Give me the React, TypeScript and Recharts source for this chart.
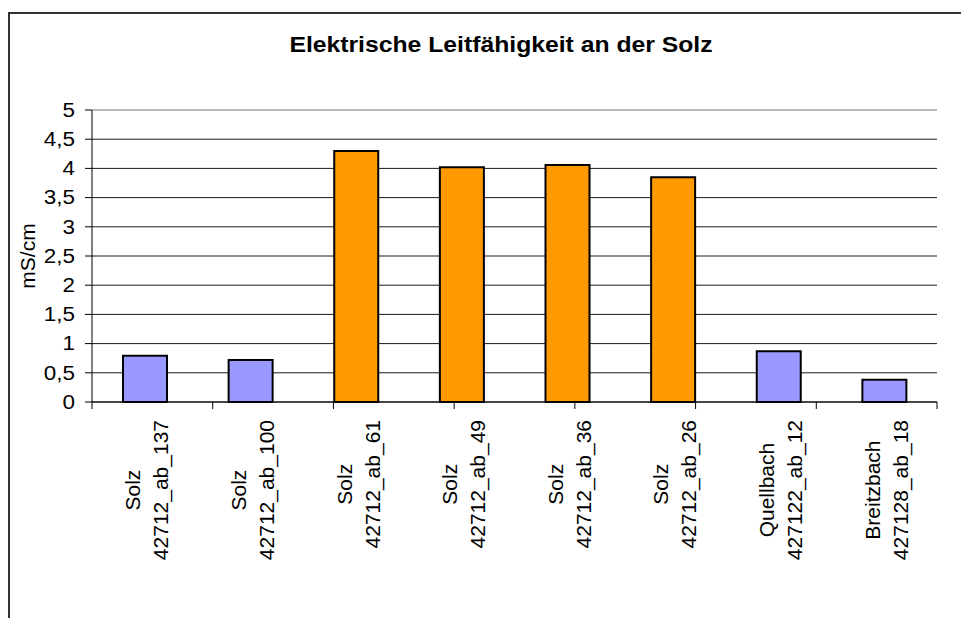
import { BarChart, Bar, Cell, XAxis, YAxis, CartesianGrid, ReferenceLine } from "recharts";

const sites = ["Solz", "Solz", "Solz", "Solz", "Solz", "Solz", "Quellbach", "Breitzbach"];
const codes = [
  "42712_ab_137",
  "42712_ab_100",
  "42712_ab_61",
  "42712_ab_49",
  "42712_ab_36",
  "42712_ab_26",
  "427122_ab_12",
  "427128_ab_18",
];
const values = [0.79, 0.72, 4.3, 4.02, 4.06, 3.85, 0.87, 0.38];
// "side" = Zufluss / Oberlauf (blau), "main" = Solz unterhalb (orange)
const groups = ["side", "side", "main", "main", "main", "main", "side", "side"];
const yTicks = [0, 0.5, 1, 1.5, 2, 2.5, 3, 3.5, 4, 4.5, 5];
const edgeTicks = [0, 1, 2, 3, 4, 5, 6, 7, 8];

const colors: Record<string, string> = { side: "#9999ff", main: "#ff9900" };
const font = '"Liberation Sans", Arial, Helvetica, sans-serif';

const data = codes.map((code, i) => ({ code, site: sites[i], value: values[i], group: groups[i] }));

let ctx: CanvasRenderingContext2D | null = null;
function textWidth(s: string, size: number) {
  if (!ctx && typeof document !== "undefined") ctx = document.createElement("canvas").getContext("2d");
  if (ctx) {
    ctx.font = `${size}px ${font}`;
    return ctx.measureText(s).width;
  }
  return s.length * 0.556 * size;
}

const fmt = (v: number) => String(v).replace(".", ",");

function YTick(props: any) {
  const { x, y, payload } = props;
  return (
    <text
      transform={`translate(${x},${y}) scale(1.15,1)`}
      textAnchor="end"
      dy="0.35em"
      fontSize={19.5}
      fontFamily={font}
      fill="#000"
    >
      {fmt(payload.value)}
    </text>
  );
}

function XTick(props: any) {
  const { x, y, payload } = props;
  const i = payload.index;
  const lines = [sites[i], codes[i]];
  const size = 21;
  const longest = Math.max(...lines.map((l) => textWidth(l, size)));
  const mid = 10 + longest / 2;
  return (
    <g transform={`translate(${x},${y})`}>
      <text transform="rotate(-90)" textAnchor="middle" fontSize={size} fontFamily={font} fill="#000">
        <tspan x={-mid} y={-4.5}>{lines[0]}</tspan>
        <tspan x={-mid} y={23.5}>{lines[1]}</tspan>
      </text>
    </g>
  );
}

function AxisTitle(props: any) {
  const { viewBox } = props;
  const cx = viewBox.x + 18;
  const cy = viewBox.y + viewBox.height / 2;
  return (
    <text
      x={cx}
      y={cy}
      transform={`rotate(-90, ${cx}, ${cy})`}
      textAnchor="middle"
      dy="0.35em"
      fontSize={21}
      fontFamily={font}
      fill="#000"
    >
      mS/cm
    </text>
  );
}

export default function App() {
  return (
    <div style={{ paddingTop: 4, marginBottom: -8 }}>
      <div
        style={{
          position: "relative",
          width: 955,
          height: 612,
          borderTop: "2px solid #333",
          borderLeft: "2px solid #333",
        }}
      >
        <div
          style={{
            position: "absolute",
            left: 491,
            top: 21,
            whiteSpace: "nowrap",
            fontFamily: font,
            fontWeight: "bold",
            fontSize: 21.5,
            lineHeight: 1,
            transform: "translateX(-50%) scaleX(1.15)",
          }}
        >
          Elektrische Leitfähigkeit an der Solz
        </div>
        <BarChart width={955} height={604} data={data} margin={{ top: 96, right: 28, bottom: 0, left: 0 }}>
          <CartesianGrid xAxisId="b" vertical={false} stroke="#1a1a1a" />
          <ReferenceLine xAxisId="b" y={5} stroke="#e8e8e8" />
          <XAxis
            xAxisId="b"
            dataKey="code"
            height={208}
            axisLine={false}
            tickLine={false}
            tickSize={0}
            tickMargin={0}
            interval={0}
            tick={<XTick />}
          />
          <XAxis
            xAxisId="a"
            type="number"
            domain={[0, 8]}
            ticks={edgeTicks}
            allowDataOverflow
            height={8}
            tickSize={7}
            tickFormatter={() => ""}
            stroke="#000"
            tickLine={{ stroke: "#000" }}
          />
          <YAxis
            width={82}
            domain={[0, 5]}
            ticks={yTicks}
            tickSize={7}
            tickMargin={10}
            stroke="#000"
            tick={<YTick />}
            label={<AxisTitle />}
          />
          <Bar xAxisId="b" dataKey="value" barSize={44} stroke="#000" strokeWidth={2} isAnimationActive={false}>
            {data.map((d) => (
              <Cell key={d.code} fill={colors[d.group]} />
            ))}
          </Bar>
        </BarChart>
      </div>
    </div>
  );
}
